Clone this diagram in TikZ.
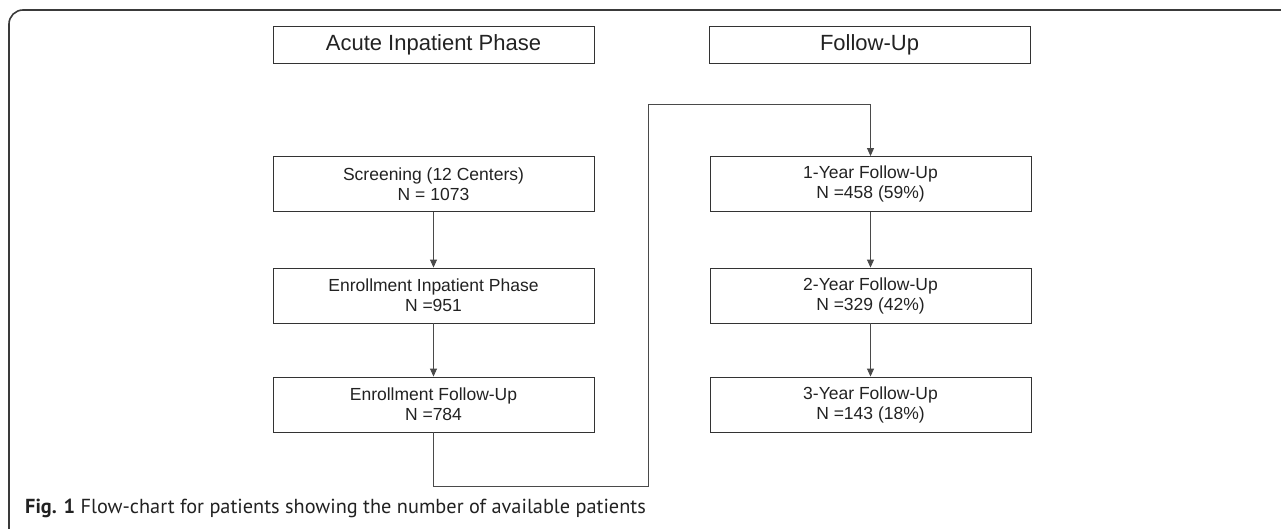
\documentclass[tikz,border=0pt]{standalone}
\usepackage{fontspec}
\setmainfont{Liberation Sans}
\newfontfamily\capfont{PT Sans}
\usetikzlibrary{arrows.meta}
\definecolor{boxline}{HTML}{333333}
\definecolor{conline}{HTML}{4A4A4A}
\definecolor{txt}{HTML}{222222}
\definecolor{framec}{HTML}{3A3A3A}
\begin{document}
\begin{tikzpicture}[x=1pt,y=-1pt,
  headbox/.style={draw=boxline,line width=0.9pt,minimum width=321pt,minimum height=37pt,inner sep=0pt,text=txt,font=\fontsize{22}{24}\selectfont},
  stagebox/.style={draw=boxline,line width=0.9pt,minimum width=321pt,minimum height=55pt,inner sep=0pt,text=txt,align=center,font=\fontsize{17.5}{20}\selectfont},
  conn/.style={draw=conline,line width=0.9pt},
  arr/.style={conn,-{Triangle[length=8pt,width=7pt]}}]
\useasboundingbox (0,0) rectangle (1281,528);
% frame
\draw[framec,line width=1.6pt,rounded corners=14pt] (9,529) -- (9,10) -- (1282,10);
% headers
\node[headbox] (h1) at (433.5,44.5) {Acute Inpatient Phase};
\node[headbox] (h2) at (869.5,44.5) {Follow-Up};
% left column
\node[stagebox] (s) at (433.5,184) {Screening (12 Centers)\\N = 1073};
\node[stagebox] (e1) at (433.5,295.5) {Enrollment Inpatient Phase\\N =951};
\node[stagebox] (e2) at (433.5,404.5) {Enrollment Follow-Up\\N =784};
% right column
\node[stagebox] (y1) at (870.5,184) {1-Year Follow-Up\\N =458 (59\%)};
\node[stagebox] (y2) at (870.5,295.5) {2-Year Follow-Up\\N =329 (42\%)};
\node[stagebox] (y3) at (870.5,404.5) {3-Year Follow-Up\\N =143 (18\%)};
% connectors
\draw[arr] (s) -- (e1);
\draw[arr] (e1) -- (e2);
\draw[arr] (y1) -- (y2);
\draw[arr] (y2) -- (y3);
\coordinate (c1) at (433.5,486);
\coordinate (c2) at (648,486);
\coordinate (c3) at (648,104);
\coordinate (c4) at (870.5,104);
\draw[arr] (e2.south) -- (c1) -- (c2) -- (c3) -- (c4) -- (y1.north);
% caption
\node[anchor=base west,inner sep=0pt,text=txt,font=\capfont\fontsize{20.3}{22}\selectfont] (cap) at (25,513) {\textbf{Fig. 1} Flow-chart for patients showing the number of available patients};
\end{tikzpicture}
\end{document}
